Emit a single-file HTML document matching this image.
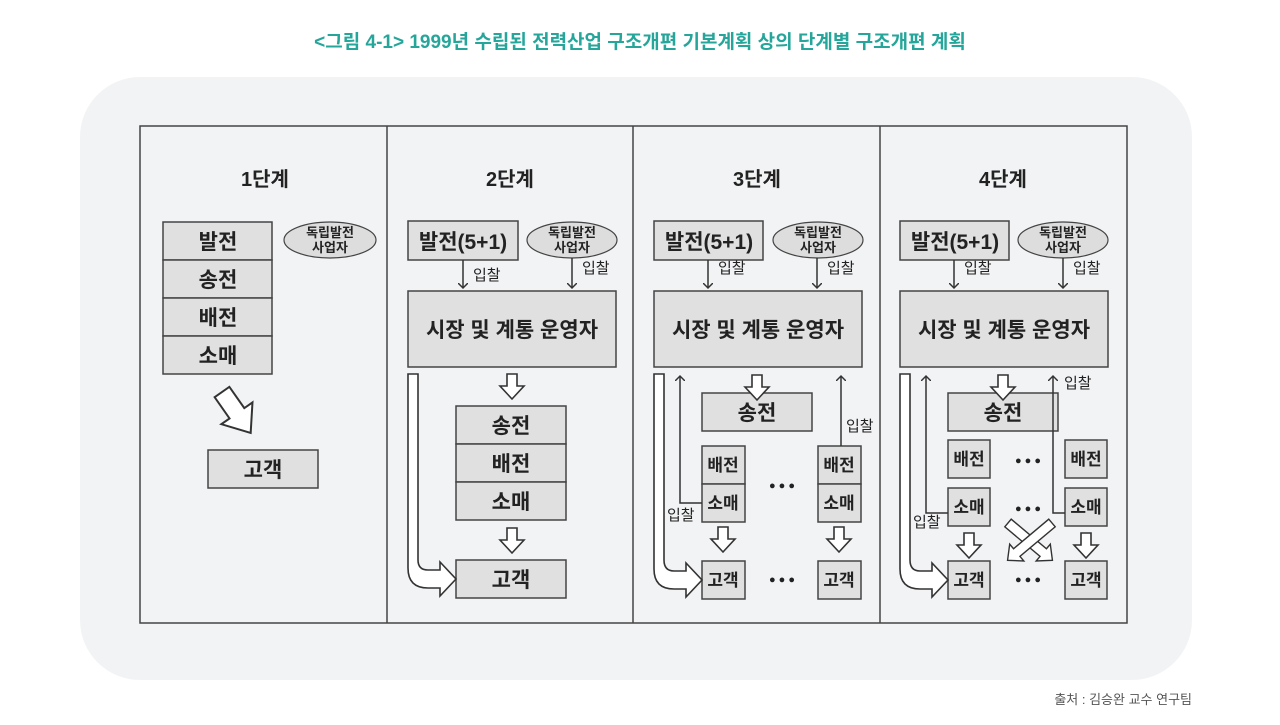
<!DOCTYPE html>
<html><head><meta charset="utf-8"><style>
body{margin:0;background:#fff;}
svg text{font-family:"Liberation Sans","Noto Sans CJK KR",sans-serif;}
</style></head><body>
<svg width="1280" height="720" viewBox="0 0 1280 720" xmlns="http://www.w3.org/2000/svg">
<defs>
<g id="da"><polygon points="-5,0 5,0 5,12 12,12 0,25 -12,12 -5,12" fill="#fff" stroke="#333" stroke-width="1.6"/></g>
<marker id="ah" markerWidth="10" markerHeight="10" refX="5" refY="5" orient="auto" markerUnits="userSpaceOnUse"><path d="M0,0 L5,5 L0,10" fill="none" stroke="#333" stroke-width="1.5"/></marker>
</defs>
<text x="640" y="48" text-anchor="middle" font-size="19" font-weight="bold" fill="#26a69a">&lt;그림 4-1&gt; 1999년 수립된 전력산업 구조개편 기본계획 상의 단계별 구조개편 계획</text>
<rect x="80" y="77" width="1112" height="603" rx="60" fill="#f2f3f4"/>
<rect x="140" y="126" width="987" height="497" fill="none" stroke="#444" stroke-width="1.5"/>
<line x1="387" y1="126" x2="387" y2="623" stroke="#444" stroke-width="1.5"/>
<line x1="633" y1="126" x2="633" y2="623" stroke="#444" stroke-width="1.5"/>
<line x1="880" y1="126" x2="880" y2="623" stroke="#444" stroke-width="1.5"/>
<g font-weight="bold" font-size="20" fill="#222" text-anchor="middle">
<text x="265" y="186">1단계</text><text x="510" y="186">2단계</text><text x="757" y="186">3단계</text><text x="1003" y="186">4단계</text>
</g>
<g fill="#e0e0e0" stroke="#444" stroke-width="1.5">
<rect x="163" y="222" width="109" height="38"/><rect x="163" y="260" width="109" height="38"/><rect x="163" y="298" width="109" height="38"/><rect x="163" y="336" width="109" height="38"/>
<rect x="208" y="450" width="110" height="38"/>
<rect x="408" y="221" width="110" height="39"/><rect x="408" y="291" width="208" height="76"/>
<rect x="456" y="406" width="110" height="38"/><rect x="456" y="444" width="110" height="38"/><rect x="456" y="482" width="110" height="38"/>
<rect x="456" y="560" width="110" height="38"/>
<rect x="654" y="221" width="109" height="39"/><rect x="654" y="291" width="208" height="76"/>
<rect x="702" y="393" width="110" height="38"/>
<rect x="702" y="446" width="43" height="38"/><rect x="702" y="484" width="43" height="38"/>
<rect x="818" y="446" width="43" height="38"/><rect x="818" y="484" width="43" height="38"/>
<rect x="702" y="561" width="43" height="38"/><rect x="818" y="561" width="43" height="38"/>
<rect x="900" y="221" width="109" height="39"/><rect x="900" y="291" width="208" height="76"/>
<rect x="948" y="393" width="110" height="38"/>
<rect x="948" y="440" width="42" height="38"/><rect x="1065" y="440" width="42" height="38"/>
<rect x="948" y="488" width="42" height="38"/><rect x="1065" y="488" width="42" height="38"/>
<rect x="948" y="561" width="42" height="38"/><rect x="1065" y="561" width="42" height="38"/>
</g>
<g fill="#ddd" stroke="#444" stroke-width="1.2">
<ellipse cx="330" cy="240" rx="46" ry="18"/><ellipse cx="572" cy="240" rx="45" ry="18"/>
<ellipse cx="818" cy="240" rx="45" ry="18"/><ellipse cx="1063" cy="240" rx="45" ry="18"/>
</g>
<g font-size="13" font-weight="bold" fill="#222" text-anchor="middle">
<text x="330" y="237">독립발전</text><text x="330" y="252">사업자</text>
<text x="572" y="237">독립발전</text><text x="572" y="252">사업자</text>
<text x="818" y="237">독립발전</text><text x="818" y="252">사업자</text>
<text x="1063" y="237">독립발전</text><text x="1063" y="252">사업자</text>
</g>
<g font-size="21" font-weight="bold" fill="#222" text-anchor="middle">
<text x="218" y="249">발전</text><text x="218" y="287">송전</text><text x="218" y="325">배전</text><text x="218" y="363">소매</text>
<text x="263" y="477">고객</text>
<text x="463" y="249">발전(5+1)</text><text x="709" y="249">발전(5+1)</text><text x="955" y="249">발전(5+1)</text>
<text x="512" y="337">시장 및 계통 운영자</text><text x="758" y="337">시장 및 계통 운영자</text><text x="1004" y="337">시장 및 계통 운영자</text>
<text x="511" y="433">송전</text><text x="511" y="471">배전</text><text x="511" y="509">소매</text><text x="511" y="587">고객</text>
<text x="757" y="420">송전</text><text x="1003" y="420">송전</text>
</g>
<g font-size="17" font-weight="bold" fill="#222" text-anchor="middle">
<text x="723" y="471">배전</text><text x="723" y="509">소매</text><text x="839" y="471">배전</text><text x="839" y="509">소매</text>
<text x="723" y="586">고객</text><text x="839" y="586">고객</text>
<text x="969" y="465">배전</text><text x="1086" y="465">배전</text><text x="969" y="513">소매</text><text x="1086" y="513">소매</text>
<text x="969" y="586">고객</text><text x="1086" y="586">고객</text>
</g>
<g font-size="11" fill="#222" text-anchor="middle">
<text x="782" y="489">● ● ●</text><text x="782" y="583">● ● ●</text>
<text x="1028" y="464">● ● ●</text><text x="1028" y="512">● ● ●</text><text x="1028" y="583">● ● ●</text>
</g>
<g stroke="#333" stroke-width="1.5" fill="none" marker-end="url(#ah)">
<line x1="463" y1="260" x2="463" y2="288"/><line x1="572" y1="258" x2="572" y2="288"/>
<line x1="708" y1="260" x2="708" y2="288"/><line x1="817" y1="258" x2="817" y2="288"/>
<line x1="954" y1="260" x2="954" y2="288"/><line x1="1063" y1="258" x2="1063" y2="288"/>
<polyline points="702,503 680,503 680,376"/>
<line x1="841" y1="446" x2="841" y2="376"/>
<polyline points="948,513 926,513 926,376"/>
<polyline points="1065,513 1053,513 1053,376"/>
</g>
<g font-size="15" fill="#222">
<text x="473" y="280">입찰</text><text x="582" y="273">입찰</text>
<text x="718" y="273">입찰</text><text x="827" y="273">입찰</text>
<text x="964" y="273">입찰</text><text x="1073" y="273">입찰</text>
<text x="667" y="520">입찰</text><text x="846" y="431">입찰</text>
<text x="913" y="527">입찰</text><text x="1064" y="388">입찰</text>
</g>
<use href="#da" x="512" y="374"/><use href="#da" x="512" y="528"/>
<use href="#da" x="757" y="375"/>
<use href="#da" x="723" y="527"/><use href="#da" x="839" y="527"/>
<use href="#da" x="1003" y="375"/>
<use href="#da" x="969" y="533"/><use href="#da" x="1086" y="533"/>
<g transform="translate(222,392) rotate(-35)"><polygon points="-9,0 9,0 9,26 19,26 0,50 -19,26 -9,26" fill="#fff" stroke="#333" stroke-width="2"/></g>
<g transform="translate(1008,523) rotate(-50)"><polygon points="-5,0 5,0 5,46 11,46 0,58 -11,46 -5,46" fill="#fff" stroke="#333" stroke-width="1.4"/></g>
<g transform="translate(1052,523) rotate(50)"><polygon points="-5,0 5,0 5,46 11,46 0,58 -11,46 -5,46" fill="#fff" stroke="#333" stroke-width="1.4"/></g>
<g fill="#fff" stroke="#333" stroke-width="1.6">
<path d="M408,374 L418,374 L418,560 Q418,570 428,570 L440,570 L440,562 L456,579 L440,596 L440,588 L428,588 Q408,588 408,568 Z"/>
<path d="M654,374 L664,374 L664,560 Q664,571 674,571 L686,571 L686,563 L702,580 L686,597 L686,589 L674,589 Q654,589 654,569 Z"/>
<path d="M900,374 L910,374 L910,560 Q910,571 920,571 L932,571 L932,563 L948,580 L932,597 L932,589 L920,589 Q900,589 900,569 Z"/>
</g>
<text x="1192" y="704" text-anchor="end" font-size="13" fill="#555">출처 : 김승완 교수 연구팀</text>
</svg>
</body></html>
